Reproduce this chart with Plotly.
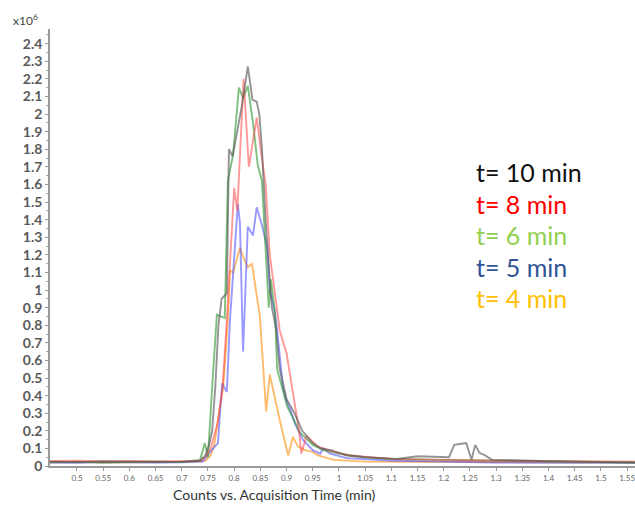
import plotly.graph_objects as go

# Data (counts in units of 10^6) vs acquisition time (min)
t10_time = [0.445, 0.5, 0.55, 0.6, 0.65, 0.7, 0.735, 0.745, 0.752, 0.758, 0.764, 0.770, 0.776, 0.786, 0.790, 0.797,
            0.815, 0.826, 0.835, 0.843, 0.848, 0.853, 0.86, 0.868, 0.872, 0.88, 0.887, 0.9, 0.915, 0.93, 0.95,
            0.965, 0.985, 1.015, 1.05, 1.11, 1.15, 1.21, 1.22, 1.23, 1.243, 1.253, 1.26, 1.268, 1.279, 1.292,
            1.35, 1.45, 1.565]
t10_val = [0.025, 0.022, 0.026, 0.024, 0.023, 0.025, 0.03, 0.06, 0.12, 0.2, 0.45, 0.8, 0.95, 0.98, 1.8, 1.76,
           2.05, 2.27, 2.08, 2.07, 2.0, 1.8, 1.4, 1.05, 0.9, 0.78, 0.55, 0.38, 0.3, 0.2, 0.13,
           0.1, 0.09, 0.06, 0.05, 0.04, 0.055, 0.05, 0.12, 0.125, 0.13, 0.035, 0.12, 0.075, 0.06, 0.035,
           0.03, 0.025, 0.02]

t8_time = [0.445, 0.5, 0.55, 0.6, 0.65, 0.7, 0.735, 0.745, 0.755, 0.768, 0.778, 0.786, 0.795, 0.80, 0.806,
           0.818, 0.828, 0.843, 0.853, 0.86, 0.868, 0.875, 0.887, 0.9, 0.916, 0.924, 0.928, 0.938, 0.96,
           0.99, 1.02, 1.1, 1.2, 1.3, 1.565]
t8_val = [0.028, 0.03, 0.027, 0.029, 0.026, 0.028, 0.03, 0.05, 0.1, 0.24, 0.45, 0.83, 1.3, 1.58, 1.45,
          2.2, 1.7, 1.98, 1.75, 1.6, 1.2, 1.05, 0.77, 0.64, 0.36, 0.2, 0.07, 0.17, 0.11,
          0.08, 0.06, 0.04, 0.035, 0.03, 0.025]

t6_time = [0.445, 0.5, 0.55, 0.6, 0.65, 0.7, 0.735, 0.744, 0.75, 0.758, 0.767, 0.782, 0.788, 0.798, 0.809,
           0.817, 0.826, 0.836, 0.845, 0.853, 0.863, 0.866, 0.870, 0.878, 0.882, 0.901, 0.926, 0.95, 0.97,
           1.0, 1.05, 1.1, 1.2, 1.3, 1.4, 1.565]
t6_val = [0.022, 0.025, 0.02, 0.023, 0.026, 0.022, 0.035, 0.13, 0.05, 0.45, 0.86, 0.84, 1.62, 1.77, 2.15,
          2.09, 2.16, 1.95, 1.71, 1.62, 1.06, 0.9, 1.06, 0.87, 0.55, 0.34, 0.19, 0.12, 0.09,
          0.07, 0.05, 0.04, 0.035, 0.03, 0.025, 0.02]

t5_time = [0.445, 0.5, 0.55, 0.6, 0.65, 0.7, 0.74, 0.754, 0.769, 0.777, 0.786, 0.792, 0.807, 0.811, 0.817,
           0.826, 0.836, 0.843, 0.853, 0.863, 0.868, 0.878, 0.882, 0.893, 0.901, 0.907, 0.916, 0.931, 0.95,
           0.964, 0.97, 0.983, 1.015, 1.1, 1.2, 1.3, 1.565]
t5_val = [0.02, 0.018, 0.022, 0.02, 0.019, 0.021, 0.025, 0.08, 0.13, 0.47, 0.42, 0.83, 1.49, 1.38, 0.65,
          1.36, 1.31, 1.47, 1.37, 1.24, 1.0, 0.87, 0.77, 0.45, 0.36, 0.32, 0.24, 0.15, 0.09,
          0.07, 0.1, 0.07, 0.045, 0.03, 0.025, 0.02, 0.018]

t4_time = [0.445, 0.5, 0.55, 0.6, 0.65, 0.7, 0.745, 0.755, 0.762, 0.769, 0.779, 0.788, 0.792, 0.798, 0.811,
           0.817, 0.826, 0.834, 0.849, 0.861, 0.868, 0.887, 0.903, 0.912, 0.922, 0.935, 0.95, 0.96, 0.99,
           1.05, 1.2, 1.4, 1.565]
t4_val = [0.02, 0.022, 0.019, 0.021, 0.02, 0.022, 0.03, 0.06, 0.12, 0.26, 0.45, 0.83, 1.11, 1.1, 1.24,
          1.19, 1.13, 1.15, 0.85, 0.31, 0.52, 0.26, 0.06, 0.165, 0.11, 0.09, 0.08, 0.06, 0.035,
          0.025, 0.022, 0.02, 0.02]

x_tick_vals = [0.5, 0.55, 0.6, 0.65, 0.7, 0.75, 0.8, 0.85, 0.9, 0.95, 1.0, 1.05, 1.1, 1.15, 1.2,
               1.25, 1.3, 1.35, 1.4, 1.45, 1.5, 1.55]
x_tick_text = ["0.5", "0.55", "0.6", "0.65", "0.7", "0.75", "0.8", "0.85", "0.9", "0.95", "1", "1.05",
               "1.1", "1.15", "1.2", "1.25", "1.3", "1.35", "1.4", "1.45", "1.5", "1.55"]

legend_labels = ["t= 10 min", "t= 8 min", "t= 6 min", "t= 5 min", "t= 4 min"]
legend_colors = ["#111111", "#FF0000", "#92D050", "#2F5597", "#FFC000"]

series = [
    (t4_time, t4_val, "rgba(255,150,30,0.65)"),
    (t5_time, t5_val, "rgba(70,70,255,0.55)"),
    (t6_time, t6_val, "rgba(40,150,40,0.6)"),
    (t8_time, t8_val, "rgba(255,70,70,0.55)"),
    (t10_time, t10_val, "rgba(90,90,90,0.65)"),
]

W, H = 635, 511
ML, MR, MT, MB = 50, 0, 29, 45
PW, PH = W - ML - MR, H - MT - MB

fig = go.Figure()
for tx, vy, col in series:
    fig.add_trace(go.Scatter(x=tx, y=vy, mode="lines", line=dict(color=col, width=1.9),
                             showlegend=False, hoverinfo="skip"))

fig.update_layout(
    width=W, height=H, autosize=False,
    margin=dict(l=ML, r=MR, t=MT, b=MB, autoexpand=False),
    paper_bgcolor="white", plot_bgcolor="white",
    font=dict(family="Lato", color="#444"),
)
fig.update_xaxes(
    range=[0.4485, 1.565], tickvals=x_tick_vals, ticktext=x_tick_text,
    showgrid=False, zeroline=False, automargin=False, ticklabeloverflow="allow",
    showline=True, linecolor="#9a9a9a", linewidth=2,
    ticks="outside", ticklen=3, tickcolor="#9a9a9a",
    tickfont=dict(size=8, color="#666", family="Lato"),
)
fig.update_yaxes(
    range=[0, 2.483], dtick=0.1, tick0=0, showgrid=False, zeroline=False, automargin=False,
    showline=True, linecolor="#9a9a9a", linewidth=1.5,
    ticks="outside", ticklen=3, tickcolor="#9a9a9a",
    minor=dict(dtick=0.05, ticks="outside", ticklen=2, tickcolor="#aaa"),
    tickfont=dict(size=14, color="#5a5a5a", family="Lato", weight="bold"),
)

def px_x(p):
    return (p - ML) / PW

def px_y(p):
    return 1 - (p - MT) / PH

fig.add_annotation(x=px_x(11), y=px_y(30), xref="paper", yref="paper", xanchor="left", yanchor="bottom",
                   text="x10<sup>6</sup>", showarrow=False, font=dict(size=12, color="#444"))

fig.add_annotation(x=px_x(274), y=px_y(495), xref="paper", yref="paper", yanchor="middle",
                   text="Counts vs. Acquisition Time (min)", showarrow=False,
                   font=dict(size=14, color="#333", family="Lato"))

for i, (lab, col) in enumerate(zip(legend_labels, legend_colors)):
    fig.add_annotation(x=px_x(474), y=px_y(172 + 31.5 * i), xref="paper", yref="paper",
                       xanchor="left", yanchor="middle", text=lab, showarrow=False,
                       font=dict(size=25, color=col, family="Lato"))

fig.write_html("out.html", config={"displayModeBar": False},
               post_script="document.body.style.margin='0';document.body.style.overflow='hidden';")
